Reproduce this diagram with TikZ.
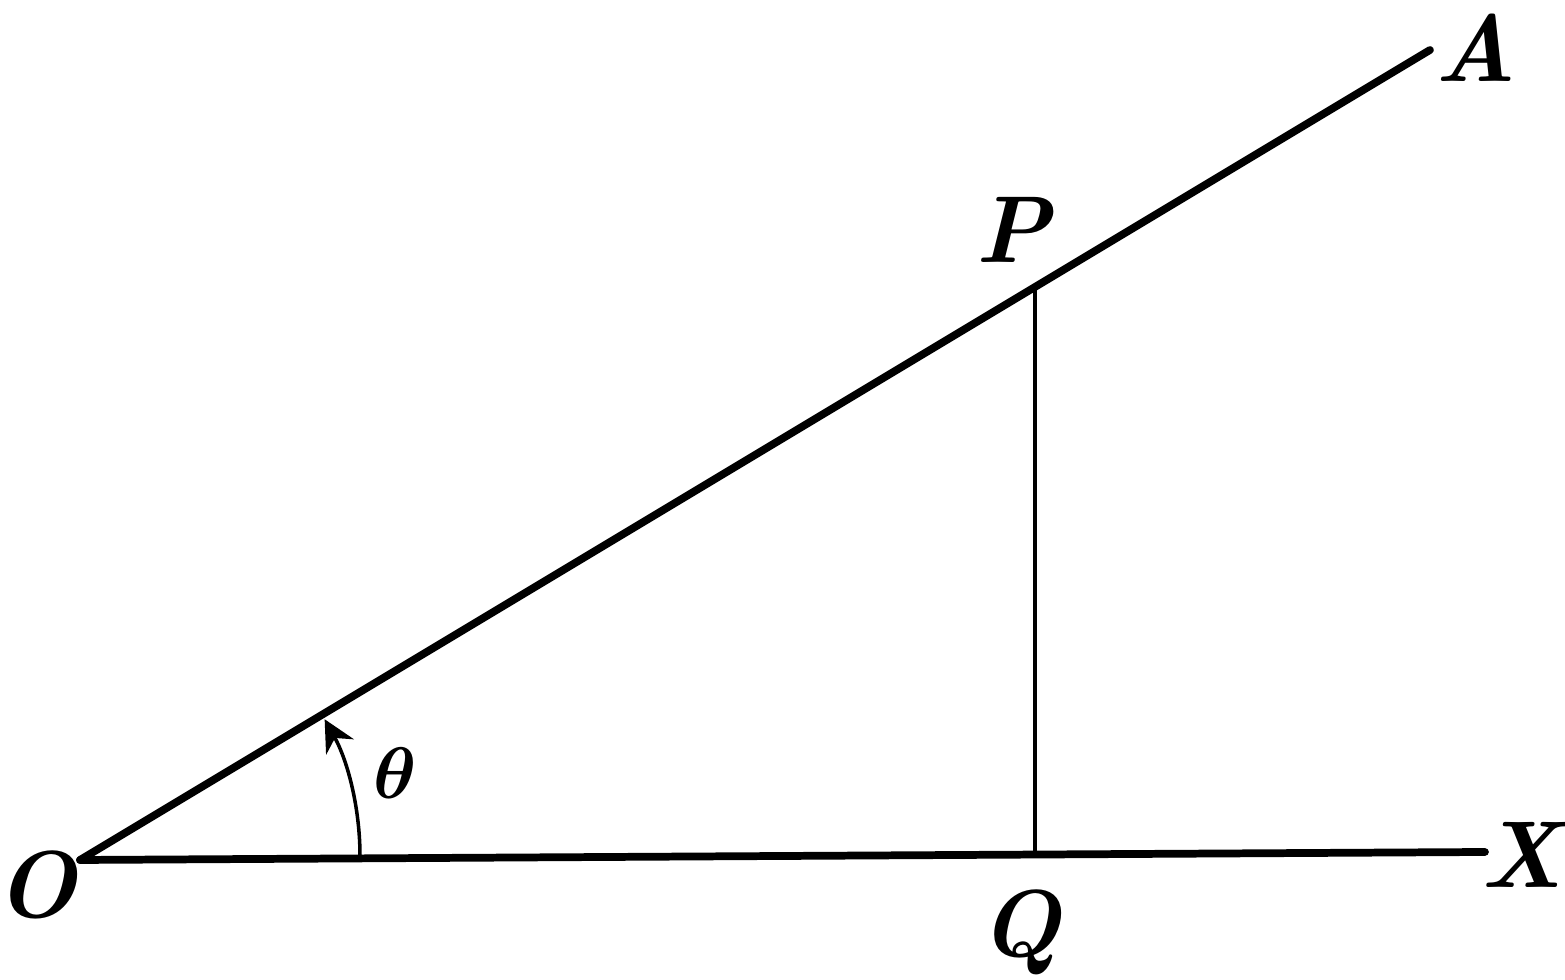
\documentclass[tikz,border=0pt]{standalone}
\usepackage{tikz}
\usetikzlibrary{arrows.meta}
\tikzset{
    lbl/.style={font=\fontsize{27}{32}\selectfont\bfseries\itshape, inner sep=0pt},
    ray/.style={line width=2.2pt, line cap=round},
}
\begin{document}
\begin{tikzpicture}[x=0.01cm,y=-0.01cm]
    \useasboundingbox (0,0) rectangle (1565,980);
    \coordinate (O) at (80,860);
    \coordinate (X) at (1485,852);
    \coordinate (A) at (1430,50);
    \coordinate (P) at (1035,290);
    \coordinate (Q) at (1035,852);
    \draw[ray] (O) -- (A);
    \draw[ray] (O) -- (X);
    \draw[line width=1.3pt] (P) -- (Q);
    \draw[line width=1pt, -{Stealth[length=9pt,width=9pt]}] (360,856) arc[start angle=0, end angle=-29, radius=282];
    \node[lbl] (o) at (36,885) {O};
    \node[lbl] (q) at (1020,932) {Q};
    \node[lbl] (x) at (1522,855) {X};
    \node[lbl] (a) at (1476,48) {A};
    \node[lbl] (p) at (1013,230) {P};
    \node[font=\fontsize{22}{26}\selectfont\boldmath, inner sep=0pt] (th) at (395,773) {$\theta$};
\end{tikzpicture}
\end{document}
